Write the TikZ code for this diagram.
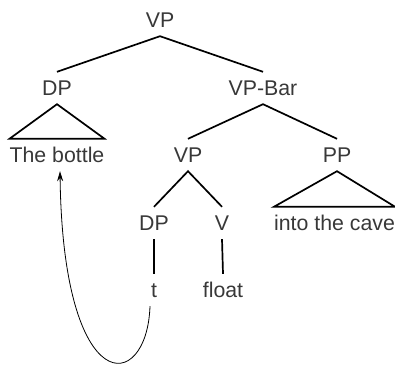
\documentclass[tikz,border=0pt]{standalone}
\usepackage{fontspec}
\setmainfont{Liberation Sans}
\usetikzlibrary{arrows.meta}

\tikzset{
  cat/.style={inner sep=0pt, text height=15pt, text depth=0pt,
    minimum height=32pt, text=black!78, font=\fontsize{21.3}{25}\selectfont},
  branch/.style={line width=1.7pt},
  trace/.style={line width=0.8pt, -{Stealth[length=10pt,width=6pt]}}
}

\begin{document}
\begin{tikzpicture}[x=1pt, y=-1pt]
    \useasboundingbox (0,0) rectangle (395,364);
    % Labels of the tree
    \node[cat] (vp) at (160,20) {VP};
    \node[cat] (dp) at (57,88) {DP};
    \node[cat] (vbar) at (263,88) {VP-Bar};
    \node[cat] (bottle) at (57,155) {The bottle};
    \node[cat] (vplow) at (188,155) {VP};
    \node[cat] (pp) at (337,155) {PP};
    \node[cat] (dplow) at (154,223) {DP};
    \node[cat] (v) at (222,223) {V};
    \node[cat] (cave) at (334.5,223) {into the cave};
    \node[cat] (t) at (154,290) {t};
    \node[cat] (float) at (223,290) {float};
    % Branches
    \draw[branch] (dp.north) -- (vp.south) -- (vbar.north);
    \draw[branch] (vplow.north) -- (vbar.south) -- (pp.north);
    \draw[branch] (dplow.north) -- (vplow.south) -- (v.north);
    \draw[branch] (dplow.south) -- (t.north);
    \draw[branch] (v.south) -- (float.north);
    % Triangles
    \draw[branch] (dp.south) -- (bottle.north west) -- (bottle.north east) -- cycle;
    \draw[branch] (pp.south) -- (cave.north west) -- (cave.north east) -- cycle;
    % Movement of the trace
    \draw[trace] ([xshift=-4pt]t.south) .. controls +(-3,88) and +(3,230) .. ([xshift=3pt]bottle.south);
\end{tikzpicture}
\end{document}
